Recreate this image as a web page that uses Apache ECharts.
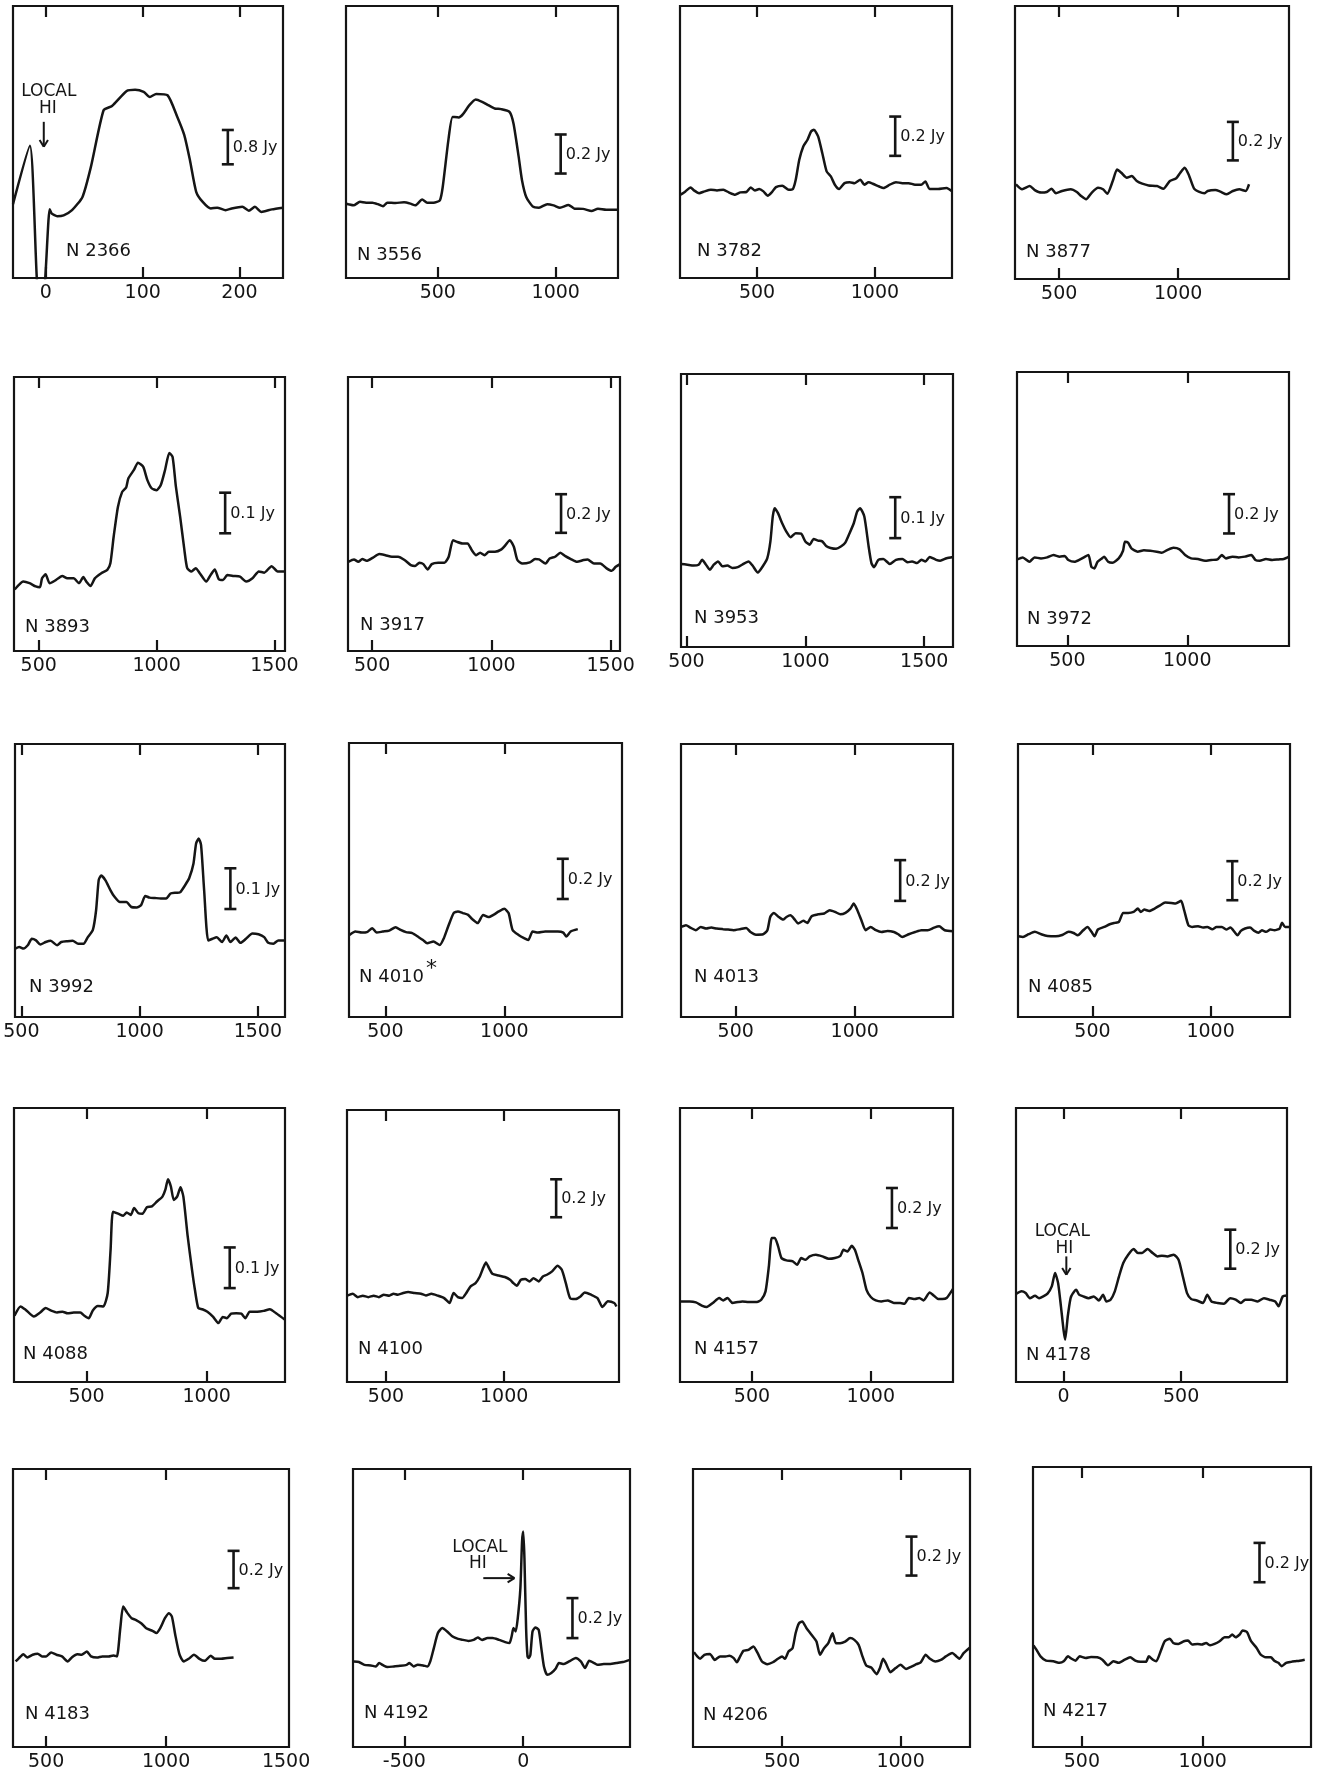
<!DOCTYPE html>
<html><head><meta charset="utf-8">
<script src="https://cdn.jsdelivr.net/npm/echarts/dist/echarts.min.js"></script>
<style>html,body{margin:0;padding:0;background:#fff}#c{width:1321px;height:1775px}</style>
</head><body><div id="c"></div>
<script>
// ---------- DATA ----------
const galaxies = ['N 2366','N 3556','N 3782','N 3877','N 3893','N 3917','N 3953','N 3972','N 3992','N 4010','N 4013','N 4085','N 4088','N 4100','N 4157','N 4178','N 4183','N 4192','N 4206','N 4217'];
const scaleBarJy = [0.8,0.2,0.2,0.2,0.1,0.2,0.1,0.2,0.1,0.2,0.2,0.2,0.1,0.2,0.2,0.2,0.2,0.2,0.2,0.2];
const tickLabels = [[0,100,200],[500,1000],[500,1000],[500,1000],[500,1000,1500],[500,1000,1500],[500,1000,1500],[500,1000],[500,1000,1500],[500,1000],[500,1000],[500,1000],[500,1000],[500,1000],[500,1000],[0,500],[500,1000,1500],[-500,0],[500,1000],[500,1000]];

const spec_N2366 = [[-34,0.10],[-16.5,1.46],[-7.8,-2.0],[-2.6,-2.0],[3.9,-0.02],[6.1,-0.12],[11.7,-0.18],[18.3,-0.16],[27,-0.04],[37.8,0.27],[46.5,0.97],[59.6,2.29],[68.3,2.39],[83.5,2.74],[92.2,2.77],[101,2.72],[107.4,2.60],[114,2.67],[125.7,2.64],[135.7,2.14],[143,1.71],[148.8,1.13],[155.3,0.39],[161.8,0.16],[170.5,0],[177,0.02],[185.7,-0.04],[192,0],[203,0.04],[209.7,-0.05],[216,0.04],[222.7,-0.08],[233.6,-0.02],[245,0.02]];
const spec_N3556 = [[111,0],[121,-0.003],[143,-0.009],[170,0.009],[196,0.005],[223,0.005],[246,-0.003],[268,-0.014],[286,0.005],[321,0.003],[357,0.007],[384,0],[405,-0.009],[434,0.021],[455,0.005],[482,0.005],[509,0.017],[521,0.085],[545,0.325],[563,0.444],[589,0.441],[607,0.458],[634,0.504],[661,0.533],[688,0.521],[714,0.504],[741,0.487],[768,0.484],[804,0.470],[821,0.410],[843,0.239],[857,0.120],[875,0.034],[902,-0.014],[929,-0.021],[964,-0.003],[991,-0.009],[1018,-0.021],[1054,-0.007],[1080,-0.026],[1116,-0.027],[1152,-0.038],[1179,-0.026],[1214,-0.031],[1264,-0.031]];
const spec_N3782 = [[175,-0.017],[196,0],[218,0.020],[232,0.005],[254,-0.009],[277,0],[304,0.008],[330,0.005],[357,0.008],[380,-0.005],[407,-0.017],[429,-0.005],[455,-0.003],[473,0.020],[491,0.005],[509,0.012],[527,0],[545,-0.022],[562,-0.005],[580,0.022],[607,0.029],[634,0.008],[652,0.012],[664,0.059],[679,0.161],[696,0.229],[714,0.263],[729,0.305],[741,0.314],[759,0.280],[777,0.193],[795,0.102],[813,0.076],[830,0.034],[848,0.012],[871,0.042],[893,0.047],[914,0.042],[938,0.059],[955,0.034],[973,0.046],[991,0.039],[1018,0.025],[1036,0.017],[1063,0.034],[1089,0.047],[1116,0.042],[1143,0.042],[1170,0.034],[1196,0.034],[1214,0.051],[1232,0.012],[1268,0.012],[1304,0.017],[1327,0]];
const spec_N3877 = [[318,0.040],[344,0.014],[376,0.031],[397,0.010],[424,-0.003],[447,0],[468,0.017],[486,-0.007],[512,0.005],[548,0.014],[574,0],[592,-0.021],[613,-0.038],[637,-0.003],[663,0.022],[684,0.014],[702,-0.009],[725,0.057],[743,0.117],[761,0.100],[784,0.074],[805,0.083],[826,0.057],[849,0.043],[876,0.034],[911,0.031],[938,0.017],[965,0.057],[992,0.071],[1009,0.100],[1027,0.126],[1044,0.091],[1067,0.017],[1089,0],[1110,-0.007],[1124,0.005],[1156,0.010],[1177,0.002],[1204,-0.012],[1230,0.005],[1257,0.014],[1284,0.005],[1298,0.040]];
const spec_N3893 = [[398,-0.023],[416,-0.012],[434,-0.004],[461,-0.008],[487,-0.016],[505,-0.018],[514,0.004],[529,0.014],[546,-0.008],[568,-0.002],[600,0.010],[621,0.004],[648,0.004],[671,-0.008],[689,0.007],[702,-0.004],[720,-0.015],[738,0.004],[764,0.016],[791,0.025],[804,0.041],[818,0.107],[836,0.180],[854,0.217],[871,0.228],[880,0.250],[904,0.271],[921,0.289],[943,0.279],[961,0.246],[979,0.226],[1000,0.221],[1018,0.234],[1036,0.271],[1054,0.313],[1068,0.303],[1082,0.230],[1100,0.156],[1118,0.074],[1130,0.029],[1148,0.021],[1166,0.029],[1184,0.016],[1211,-0.004],[1229,0.012],[1247,0.026],[1264,0.002],[1282,0],[1300,0.012],[1327,0.010],[1354,0.008],[1380,-0.004],[1407,0.004],[1434,0.021],[1457,0.018],[1488,0.034],[1514,0.021],[1545,0.021]];
const spec_N3917 = [[400,0],[424,0.012],[442,0],[459,0.014],[477,0.005],[504,0.022],[530,0.040],[556,0.034],[583,0.026],[609,0.026],[636,0.009],[662,-0.017],[680,-0.022],[698,-0.005],[715,-0.012],[733,-0.040],[750,-0.012],[777,-0.005],[803,-0.005],[821,0.026],[839,0.112],[856,0.103],[879,0.095],[900,0.095],[918,0.060],[936,0.034],[953,0.047],[971,0.034],[989,0.052],[1015,0.052],[1042,0.064],[1059,0.086],[1077,0.112],[1094,0.078],[1109,0.009],[1130,-0.009],[1161,-0.003],[1183,0.014],[1200,0.012],[1227,-0.009],[1244,0.017],[1267,0.026],[1289,0.047],[1310,0.029],[1333,0.014],[1359,0],[1386,0.009],[1403,0.012],[1430,-0.009],[1456,-0.009],[1483,-0.034],[1504,-0.047],[1521,-0.026],[1539,-0.012]];
const spec_N3953 = [[478,0.002],[504,0],[530,-0.002],[551,0],[566,0.012],[580,0.002],[598,-0.012],[615,0],[633,0.008],[651,-0.004],[672,-0.002],[693,-0.008],[716,-0.006],[734,0],[761,0.008],[778,-0.002],[800,-0.019],[823,-0.002],[840,0.016],[853,0.057],[863,0.118],[871,0.138],[885,0.126],[902,0.102],[920,0.081],[938,0.067],[959,0.077],[982,0.076],[1000,0.057],[1018,0.049],[1035,0.063],[1053,0.059],[1071,0.057],[1089,0.045],[1106,0.041],[1129,0.039],[1151,0.045],[1168,0.054],[1186,0.077],[1204,0.102],[1218,0.130],[1230,0.138],[1248,0.118],[1266,0.045],[1278,0.004],[1289,-0.006],[1307,0.012],[1328,0.014],[1355,0.002],[1381,0.012],[1408,0.014],[1431,0.006],[1449,0.008],[1470,0.004],[1488,0.012],[1505,0.008],[1523,0.019],[1550,0.012],[1567,0.010],[1594,0.016],[1621,0.019]];
const spec_N3972 = [[291,0],[314,0.010],[342,-0.012],[363,0.010],[390,0.005],[416,0.010],[442,0.022],[468,0.014],[489,0.017],[504,-0.003],[530,-0.012],[553,0],[574,0.014],[588,0.022],[600,-0.037],[612,-0.046],[626,-0.012],[644,0.005],[653,0.014],[670,-0.012],[688,-0.017],[714,0.005],[732,0.044],[740,0.090],[753,0.085],[767,0.056],[793,0.039],[819,0.047],[846,0.044],[872,0.039],[893,0.034],[916,0.047],[942,0.059],[968,0.051],[991,0.022],[1016,0.005],[1044,0.002],[1074,-0.007],[1100,-0.003],[1126,0],[1144,0.022],[1161,0.005],[1188,0.014],[1214,0.010],[1240,0.014],[1267,0.022],[1284,-0.003],[1302,-0.007],[1328,0.002],[1354,-0.003],[1381,0],[1402,0.002],[1424,0.014]];
const spec_N3992 = [[474,-0.012],[491,-0.008],[509,-0.012],[527,-0.004],[544,0.012],[562,0.008],[580,-0.002],[603,0.004],[624,0.007],[651,-0.004],[669,0.004],[695,0.006],[717,0.007],[740,0],[763,0],[781,0.016],[802,0.033],[816,0.082],[827,0.156],[837,0.167],[855,0.156],[877,0.131],[894,0.115],[917,0.102],[944,0.102],[965,0.090],[988,0.089],[1006,0.094],[1024,0.117],[1042,0.113],[1065,0.112],[1090,0.111],[1113,0.111],[1131,0.123],[1154,0.125],[1171,0.126],[1193,0.144],[1210,0.161],[1228,0.197],[1239,0.246],[1250,0.258],[1260,0.242],[1273,0.131],[1290,0.008],[1308,0.012],[1326,0.016],[1349,0.004],[1367,0.020],[1384,0.004],[1406,0.015],[1427,0.002],[1450,0.012],[1477,0.025],[1503,0.023],[1527,0.016],[1544,0.002],[1566,0],[1587,0.008],[1615,0.008]];
const spec_N4010 = [[349,-0.012],[374,0.005],[401,0],[422,0.002],[445,0.022],[463,0],[489,0.005],[516,0.010],[543,0.027],[564,0.013],[587,0.002],[613,-0.003],[640,-0.023],[658,-0.037],[676,-0.053],[702,-0.045],[729,-0.062],[746,-0.028],[764,0.030],[787,0.097],[805,0.105],[826,0.097],[848,0.088],[865,0.067],[888,0.047],[911,0.088],[933,0.077],[954,0.088],[977,0.105],[1000,0.118],[1018,0.097],[1035,0.013],[1060,-0.012],[1083,-0.028],[1101,-0.037],[1119,0.005],[1142,0],[1172,0.005],[1199,0.005],[1225,0.005],[1248,0],[1261,-0.020],[1279,0.005],[1309,0.017]];
const spec_N4013 = [[271,0.013],[291,0.021],[309,0.010],[332,-0.003],[353,0.013],[376,0.005],[397,0.010],[420,0.005],[447,0.002],[468,0],[491,-0.003],[518,0.002],[544,0.008],[562,-0.012],[585,-0.025],[615,-0.023],[633,-0.003],[645,0.062],[660,0.082],[681,0.062],[699,0.049],[713,0.062],[730,0.070],[748,0.049],[762,0.030],[784,0.043],[801,0.033],[819,0.066],[846,0.075],[872,0.079],[895,0.095],[917,0.087],[940,0.075],[961,0.082],[982,0.103],[996,0.128],[1011,0.095],[1028,0.046],[1046,-0.003],[1067,0.013],[1089,-0.003],[1112,-0.012],[1138,-0.007],[1165,-0.012],[1183,-0.023],[1200,-0.036],[1227,-0.023],[1254,-0.012],[1280,-0.003],[1307,-0.003],[1334,0.010],[1355,0.016],[1378,-0.003],[1413,-0.008]];
const spec_N4085 = [[187,-0.014],[206,-0.017],[230,-0.003],[256,0.009],[283,-0.003],[310,-0.012],[345,-0.014],[372,-0.007],[399,0.009],[420,0.003],[438,-0.009],[461,0.017],[479,0.034],[496,0.009],[509,-0.014],[523,0.021],[550,0.034],[573,0.048],[594,0.055],[612,0.060],[630,0.106],[651,0.106],[674,0.111],[692,0.128],[705,0.111],[719,0.123],[740,0.116],[763,0.128],[786,0.145],[808,0.159],[834,0.157],[852,0.154],[875,0.168],[888,0.120],[906,0.043],[923,0.034],[947,0.038],[968,0.031],[986,0.034],[1007,0.022],[1025,0.034],[1048,0.034],[1066,0.021],[1084,0.031],[1101,0.009],[1114,-0.009],[1128,0.014],[1146,0.026],[1167,0.031],[1185,0.014],[1203,0.005],[1217,0.017],[1235,0.009],[1253,0.021],[1270,0.017],[1292,0.026],[1302,0.056],[1315,0.034],[1336,0.034]];
const spec_N4088 = [[200,-0.008],[225,0.015],[246,0.007],[281,-0.010],[307,0],[330,0.011],[351,0.005],[377,0],[400,0.002],[421,-0.002],[447,0],[474,0],[491,-0.008],[509,-0.014],[526,0.005],[547,0.016],[570,0.015],[588,0.048],[600,0.154],[610,0.248],[632,0.243],[653,0.238],[667,0.246],[684,0.240],[698,0.257],[716,0.244],[733,0.243],[751,0.259],[772,0.261],[793,0.273],[816,0.285],[828,0.302],[839,0.328],[851,0.310],[863,0.277],[877,0.285],[891,0.308],[903,0.285],[921,0.187],[939,0.105],[951,0.056],[965,0.011],[982,0.008],[1003,0.002],[1026,-0.010],[1049,-0.026],[1067,-0.011],[1084,-0.014],[1102,-0.003],[1123,-0.002],[1144,-0.003],[1161,-0.014],[1179,0.002],[1210,0.002],[1237,0.004],[1263,0.008],[1289,-0.002],[1326,-0.018]];
const spec_N4100 = [[336,0.004],[359,0.014],[381,-0.004],[402,0.004],[425,-0.004],[448,0.004],[470,-0.004],[491,0.009],[514,0.004],[532,0.014],[550,0.009],[573,0.018],[594,0.023],[621,0.018],[648,0.014],[669,0.005],[692,0.014],[719,0.004],[746,-0.009],[769,-0.035],[786,0.018],[804,-0.004],[822,-0.009],[840,0.018],[858,0.053],[879,0.070],[897,0.105],[911,0.149],[923,0.179],[936,0.149],[950,0.119],[977,0.110],[1003,0.102],[1025,0.088],[1039,0.070],[1053,0.056],[1071,0.088],[1089,0.091],[1107,0.079],[1124,0.096],[1146,0.079],[1164,0.105],[1181,0.114],[1203,0.132],[1226,0.161],[1244,0.140],[1261,0.070],[1279,-0.009],[1302,-0.014],[1323,0],[1341,0.021],[1368,0.009],[1395,-0.009],[1416,-0.056],[1439,-0.026],[1466,-0.035],[1475,-0.053]];
const spec_N4157 = [[198,0],[238,0],[264,-0.005],[291,-0.022],[309,-0.028],[335,-0.008],[362,0.017],[379,0.005],[397,0.017],[418,-0.008],[441,-0.003],[459,0],[486,-0.003],[521,-0.003],[539,0.008],[557,0.050],[571,0.175],[583,0.317],[596,0.317],[610,0.275],[624,0.217],[645,0.205],[672,0.200],[690,0.183],[707,0.217],[725,0.208],[743,0.225],[769,0.233],[796,0.225],[823,0.213],[849,0.217],[872,0.228],[885,0.258],[902,0.250],[920,0.278],[933,0.258],[947,0.208],[965,0.142],[982,0.058],[1000,0.022],[1021,0.005],[1044,0],[1071,0.005],[1097,-0.008],[1124,-0.008],[1142,-0.012],[1160,0.017],[1186,0.012],[1204,0.017],[1222,0.005],[1248,0.045],[1266,0.028],[1284,0.012],[1301,0.012],[1319,0.017],[1346,0.063]];
const spec_N4178 = [[-200,0.014],[-179,0.026],[-161,0.017],[-143,-0.009],[-121,0.003],[-104,-0.009],[-86,0],[-68,0.014],[-50,0.051],[-36,0.120],[-23,0.068],[-11,-0.051],[0,-0.171],[7,-0.222],[18,-0.103],[30,-0.009],[39,0.014],[54,0.034],[66,0.009],[84,0],[107,-0.009],[129,0],[150,-0.021],[168,0.009],[182,-0.026],[200,-0.017],[218,0.026],[236,0.103],[254,0.171],[275,0.214],[298,0.243],[316,0.222],[334,0.222],[357,0.243],[379,0.222],[400,0.205],[418,0.209],[441,0.205],[468,0.214],[489,0.188],[507,0.103],[525,0.017],[543,-0.014],[566,-0.021],[593,-0.034],[611,0.009],[629,-0.026],[655,-0.034],[682,-0.038],[709,-0.009],[732,-0.017],[754,-0.034],[772,-0.017],[798,-0.017],[825,-0.026],[852,-0.009],[875,-0.017],[900,-0.026],[914,-0.051],[932,0],[950,0.005]];
const spec_N4183 = [[373,-0.023],[387,-0.005],[405,0.016],[422,-0.002],[444,0.013],[465,0.018],[483,0.004],[500,0.004],[521,0.025],[543,0.013],[566,0.004],[590,-0.023],[608,0],[630,0.016],[648,0.013],[670,0.030],[687,0.004],[712,-0.002],[734,0.004],[760,0.004],[781,0.009],[795,0.004],[809,0.155],[821,0.271],[839,0.236],[856,0.209],[873,0.200],[896,0.182],[917,0.155],[943,0.141],[960,0.129],[977,0.159],[995,0.209],[1012,0.236],[1024,0.218],[1038,0.120],[1056,0.013],[1073,-0.023],[1094,-0.009],[1116,0.013],[1139,-0.009],[1160,-0.020],[1186,0.007],[1203,-0.009],[1229,-0.009],[1255,-0.005],[1281,-0.002]];
const spec_N4192 = [[-712,0.020],[-691,0.017],[-668,0.003],[-641,0],[-620,-0.005],[-606,0.012],[-588,0],[-571,-0.008],[-544,-0.005],[-518,-0.002],[-491,0.003],[-479,0.012],[-461,-0.005],[-444,0.003],[-421,0],[-403,-0.005],[-391,0.020],[-376,0.087],[-359,0.162],[-341,0.187],[-320,0.170],[-297,0.145],[-274,0.133],[-253,0.128],[-231,0.123],[-209,0.128],[-191,0.140],[-173,0.128],[-150,0.137],[-129,0.137],[-102,0.128],[-76,0.117],[-58,0.112],[-49,0.145],[-41,0.187],[-32,0.170],[-23,0.237],[-12,0.387],[-5,0.620],[0,0.670],[5,0.537],[12,0.187],[18,0.045],[23,0.037],[30,0.053],[39,0.170],[51,0.190],[65,0.178],[76,0.087],[87,-0.005],[101,-0.047],[118,-0.038],[136,-0.017],[150,0.012],[171,0.007],[193,0.020],[221,0.037],[242,0.020],[260,-0.013],[277,0.023],[299,0.012],[313,0.003],[339,0.007],[366,0.007],[392,0.012],[419,0.017],[449,0.028]];
const spec_N4206 = [[128,0.031],[142,0.009],[154,-0.003],[172,0.017],[195,0.022],[216,-0.009],[238,0.009],[261,0.009],[278,0.012],[296,0],[309,-0.021],[323,0.009],[337,0.038],[358,0.043],[379,0.060],[397,0.026],[415,-0.017],[438,-0.031],[461,-0.021],[482,-0.003],[500,0.009],[512,-0.003],[527,0.034],[544,0.051],[557,0.128],[571,0.179],[585,0.188],[603,0.154],[624,0.120],[645,0.085],[660,0.017],[677,0.051],[695,0.077],[713,0.128],[727,0.077],[745,0.077],[766,0.085],[787,0.103],[805,0.094],[823,0.068],[837,0.017],[855,-0.038],[876,-0.048],[899,-0.082],[913,-0.051],[926,-0.003],[938,-0.026],[957,-0.072],[979,-0.051],[1000,-0.034],[1023,-0.055],[1046,-0.043],[1067,-0.031],[1085,-0.021],[1106,0.017],[1124,-0.003],[1147,-0.017],[1170,-0.009],[1191,0.009],[1218,0.026],[1236,0.009],[1248,-0.003],[1266,0.026],[1293,0.055]];
const spec_N4217 = [[300,0.081],[312,0.059],[329,0.025],[352,0.003],[382,0],[408,-0.008],[425,0],[443,0.025],[456,0.014],[474,0.003],[491,0.025],[516,0.017],[538,0.022],[564,0.020],[585,0.008],[608,-0.020],[631,0],[652,-0.008],[678,0.008],[700,0.020],[721,0.003],[742,-0.003],[765,-0.003],[777,0.025],[794,0.008],[808,0],[826,0.051],[843,0.102],[864,0.115],[878,0.093],[899,0.088],[922,0.102],[939,0.105],[956,0.085],[979,0.088],[996,0.085],[1014,0.093],[1031,0.081],[1049,0.088],[1070,0.102],[1091,0.122],[1108,0.122],[1122,0.136],[1136,0.122],[1153,0.136],[1165,0.156],[1183,0.149],[1200,0.102],[1223,0.068],[1240,0.034],[1261,0.020],[1282,0.020],[1296,0.003],[1313,-0.008],[1327,-0.025],[1345,-0.008],[1366,-0.003],[1383,0],[1401,0.003],[1422,0.008]];

const spectra = [spec_N2366,spec_N3556,spec_N3782,spec_N3877,spec_N3893,spec_N3917,spec_N3953,spec_N3972,spec_N3992,spec_N4010,spec_N4013,spec_N4085,spec_N4088,spec_N4100,spec_N4157,spec_N4178,spec_N4183,spec_N4192,spec_N4206,spec_N4217];

// ---------- LAYOUT (boxes px, axis ranges, annotation anchors) ----------
const layout = [
 {box:[13,6,270,272],   x:[-34,245],  y:[-1.62,4.72],  bar:[188,1.83],  name:[53,245]},
 {box:[346,6,272,272],  x:[111,1264], y:[-0.381,1.012],bar:[1021,0.354], name:[11,249]},
 {box:[680,6,272,272],  x:[173,1327], y:[-0.441,0.944],bar:[1086,0.381], name:[17,245]},
 {box:[1015,6,274,273], x:[314,1466], y:[-0.452,0.966],bar:[1230,0.364], name:[11,246]},
 {box:[14,377,271,274], x:[395,1545], y:[-0.175,0.500],bar:[1291,0.215], name:[11,250]},
 {box:[348,377,272,274],x:[399,1539], y:[-0.462,0.957],bar:[1292,0.350], name:[12,248]},
 {box:[681,374,272,273],x:[477,1621], y:[-0.201,0.466],bar:[1378,0.165], name:[13,244]},
 {box:[1017,372,272,274],x:[290,1424],y:[-0.441,0.954],bar:[1174,0.332], name:[10,247]},
 {box:[15,744,270,273], x:[473,1615], y:[-0.180,0.490],bar:[1384,0.185], name:[14,243]},
 {box:[349,743,273,274],x:[347,1495], y:[-0.420,0.943],bar:[1246,0.367], name:[10,234], star:true},
 {box:[681,744,272,273],x:[270,1413], y:[-0.429,0.911],bar:[1191,0.341], name:[13,233]},
 {box:[1018,744,272,273],x:[185,1336],y:[-0.427,0.971],bar:[1092,0.371], name:[10,243]},
 {box:[14,1108,271,274],x:[198,1326], y:[-0.171,0.503],bar:[1096,0.160], name:[9,246]},
 {box:[347,1110,272,272],x:[335,1486],y:[-0.451,0.982],bar:[1220,0.617], name:[11,239]},
 {box:[680,1108,273,274],x:[197,1346], y:[-0.403,0.967],bar:[1089,0.567], name:[14,241]},
 {box:[1016,1108,271,274],x:[-202,950],y:[-0.439,0.966],bar:[709,0.342],  name:[10,247],
   notes:{texts:[['LOCAL',-5,0.333],['HI',4,0.244]], arrow:[[12,0.205],[12,0.111]]}},
 {box:[13,1469,276,278],x:[362,1512], y:[-0.482,1.009],bar:[1281,0.570], name:[12,245], ticks:[500,1000]},
 {box:[353,1469,277,278],x:[-716,449],y:[-0.408,0.983],bar:[207,0.337],  name:[11,244],
   notes:{texts:[['LOCAL',-182,0.590],['HI',-191,0.512]], arrow:[[-168,0.437],[-37,0.437]]}},
 {box:[693,1469,277,278],x:[124,1293], y:[-0.456,0.971],bar:[1046,0.624], name:[10,246]},
 {box:[1033,1467,278,280],x:[298,1448],y:[-0.436,0.988],bar:[1235,0.602], name:[10,244]}
];
layout[0].notes = {texts:[['LOCAL',3,2.72],['HI',2,2.33]], arrow:[[-2.2,2.02],[-2.2,1.44]]};

const INK = '#151515';
const FONT = '"DejaVu Sans", sans-serif';

function renderFor(i){
  return function(params, api){
    const L = layout[i];
    const cs = params.coordSys;
    const t = api.coord([api.value(0), api.value(1)]);
    const b = api.coord([api.value(0), api.value(2)]);
    const x = t[0];
    const ls = {stroke:INK, lineWidth:2.6};
    const ch = [
      {type:'line', shape:{x1:x,y1:t[1],x2:x,y2:b[1]}, style:ls},
      {type:'line', shape:{x1:x-6,y1:t[1],x2:x+6,y2:t[1]}, style:ls},
      {type:'line', shape:{x1:x-6,y1:b[1],x2:x+6,y2:b[1]}, style:ls},
      {type:'text', style:{x:x+5, y:(t[1]+b[1])/2+1, text:scaleBarJy[i].toFixed(1)+' Jy', font:'16px '+FONT, fill:INK, align:'left', verticalAlign:'middle'}},
      {type:'text', style:{x:cs.x+L.name[0], y:cs.y+L.name[1], text:galaxies[i], font:'18px '+FONT, fill:INK, align:'left', verticalAlign:'middle'}}
    ];
    if (L.star){
      ch.push({type:'text', style:{x:cs.x+L.name[0]+67, y:cs.y+L.name[1]-8, text:'*', font:'22px '+FONT, fill:INK, align:'left', verticalAlign:'middle'}});
    }
    if (L.notes){
      L.notes.texts.forEach(function(n){
        const p = api.coord([n[1], n[2]]);
        ch.push({type:'text', style:{x:p[0], y:p[1], text:n[0], font:'17px '+FONT, fill:INK, align:'center', verticalAlign:'middle'}});
      });
      const a = api.coord(L.notes.arrow[0]), c = api.coord(L.notes.arrow[1]);
      ch.push({type:'line', shape:{x1:a[0],y1:a[1],x2:c[0],y2:c[1]}, style:{stroke:INK,lineWidth:2}});
      const ang = Math.atan2(c[1]-a[1], c[0]-a[0]);
      [0.55,-0.55].forEach(function(d){
        ch.push({type:'line', shape:{x1:c[0],y1:c[1],x2:c[0]-8*Math.cos(ang+d),y2:c[1]-8*Math.sin(ang+d)}, style:{stroke:INK,lineWidth:2}});
      });
    }
    return {type:'group', children:ch};
  };
}

const grids=[], xAxes=[], yAxes=[], series=[];
layout.forEach(function(L,i){
  grids.push({left:L.box[0], top:L.box[1], width:L.box[2], height:L.box[3], show:true, borderColor:INK, borderWidth:2.2, backgroundColor:'transparent', containLabel:false});
  const tickVals = L.ticks || tickLabels[i];
  const tick = {show:true, inside:true, length:11, lineStyle:{color:INK, width:2.2}, customValues:tickVals};
  xAxes.push({gridIndex:i, type:'value', min:L.x[0], max:L.x[1], position:'bottom',
    axisLine:{show:false, onZero:false}, splitLine:{show:false}, axisTick:tick,
    axisLabel:{show:true, customValues:tickLabels[i], margin:6, fontSize:19, fontFamily:'DejaVu Sans', color:INK,
      formatter:function(v){return String(v);}, showMinLabel:true, showMaxLabel:true, hideOverlap:false}});
  xAxes.push({gridIndex:i, type:'value', min:L.x[0], max:L.x[1], position:'top',
    axisLine:{show:false, onZero:false}, splitLine:{show:false}, axisTick:tick, axisLabel:{show:false}});
  yAxes.push({gridIndex:i, type:'value', min:L.y[0], max:L.y[1], show:false, splitLine:{show:false}});
  series.push({type:'line', xAxisIndex:2*i, yAxisIndex:i, data:spectra[i], showSymbol:false, symbol:'none',
    smooth:0.2, clip:true, lineStyle:{color:INK, width:2.5}, silent:true, animation:false});
  series.push({type:'custom', xAxisIndex:2*i, yAxisIndex:i, renderItem:renderFor(i),
    data:[[L.bar[0], L.bar[1], L.bar[1]-scaleBarJy[i]]], silent:true, animation:false, clip:false, z:5});
});

const chart = echarts.init(document.getElementById('c'), null, {renderer:'canvas'});
chart.setOption({animation:false, backgroundColor:'#ffffff', grid:grids, xAxis:xAxes, yAxis:yAxes, series:series});
</script></body></html>
